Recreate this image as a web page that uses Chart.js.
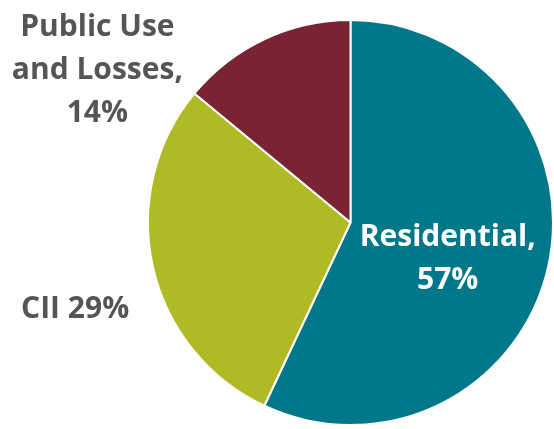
<!DOCTYPE html>
<html>
<head>
<meta charset="utf-8">
<script src="https://cdn.jsdelivr.net/npm/chart.js@4"></script>
<style>
  html, body { margin: 0; padding: 0; background: #fff; }
  #wrap { width: 554px; height: 429px; position: relative; }
</style>
</head>
<body>
<div id="wrap"><canvas id="useChart"></canvas></div>
<script>
// water use split by sector, in percent
const sectors = ["Residential", "CII", "Public Use and Losses"];
const shares = [57, 29, 14];
const sliceColours = ["#00788a", "#afba24", "#7a2333"];

// text lines for each slice label
const labelLines = [
    ["Residential,", "57%"],
    ["CII 29%"],
    ["Public Use", "and Losses,", "14%"]
];

// draws the slice labels: residential inside its slice, the others off to the left
const sliceLabels = {
    id: "sliceLabels",
    afterDatasetsDraw(chart) {
        const ctx = chart.ctx;
        const arc = chart.getDatasetMeta(0).data[0];
        const cx = arc.x, cy = arc.y, r = arc.outerRadius;
        ctx.save();
        ctx.font = "bold 30px 'Open Sans'";
        ctx.textAlign = "center";
        ctx.textBaseline = "middle";
        const lineGap = 43;

        // residential, inside the slice
        ctx.fillStyle = "#ffffff";
        labelLines[0].forEach((t, i) => ctx.fillText(t, cx + r * 0.48, cy + 15 + i * lineGap));

        // CII, left of the pie
        ctx.fillStyle = "#555555";
        labelLines[1].forEach((t, i) => ctx.fillText(t, cx - r * 1.36, cy + 87 + i * lineGap));

        // public use, top left
        labelLines[2].forEach((t, i) => ctx.fillText(t, cx - r * 1.25, cy - 195 + i * lineGap));
        ctx.restore();
    }
};

new Chart(document.getElementById("useChart"), {
    type: "pie",
    data: {
        labels: sectors,
        datasets: [{
            data: shares,
            backgroundColor: sliceColours,
            borderColor: "#ffffff",
            borderWidth: 2,
        }]
    },
    options: {
        responsive: true,
        maintainAspectRatio: false,
        animation: false,
        layout: {
            padding: { left: 147, right: 0, top: 19, bottom: 3 }
        },
        plugins: {
            legend: { display: false },
            tooltip: { enabled: false }
        }
    },
    plugins: [sliceLabels]
});
</script>
</body>
</html>
